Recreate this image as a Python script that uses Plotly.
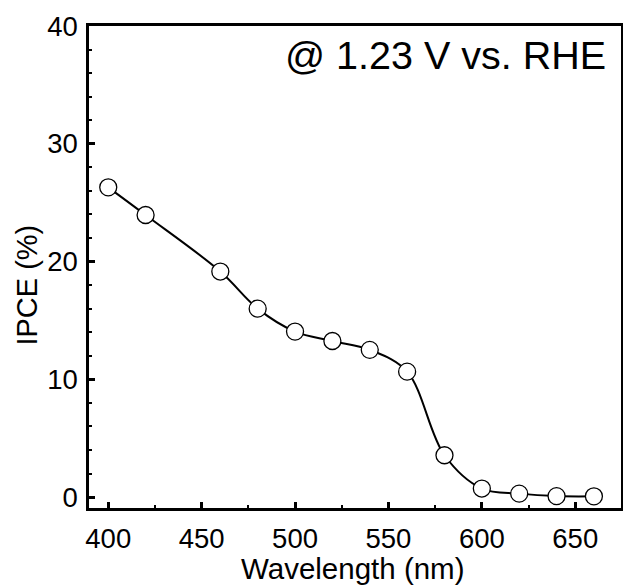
import plotly.graph_objects as go

wavelength = [400, 420, 460, 480, 500, 520, 540, 560, 580, 600, 620, 640, 660]
ipce = [26.3, 23.95, 19.15, 16.0, 14.05, 13.25, 12.5, 10.65, 3.55, 0.72, 0.29, 0.08, 0.06]

x_ticks = [400, 450, 500, 550, 600, 650]
y_ticks = [0, 10, 20, 30, 40]

FONT = "Liberation Sans, Arial, sans-serif"

fig = go.Figure()
fig.add_trace(go.Scatter(
    x=wavelength, y=ipce, mode="lines+markers",
    line=dict(color="black", width=2, shape="spline", smoothing=1.0),
    marker=dict(symbol="circle", size=17, color="white",
                line=dict(color="black", width=1.3)),
    showlegend=False,
))

axis_common = dict(
    showline=True, linecolor="black", linewidth=2.5, mirror=True,
    ticks="inside", ticklen=6, tickwidth=2.5, tickcolor="black",
    showgrid=False, zeroline=False, automargin=False,
    tickfont=dict(family=FONT, size=27.5, color="black"),
)

fig.update_xaxes(
    range=[389.7, 674.5], tickvals=x_ticks, ticktext=[str(v) for v in x_ticks],
    minor=dict(ticks="inside", ticklen=3, tickwidth=2, tickcolor="black", dtick=25, tick0=400),
    ticklabelstandoff=4,
    **axis_common,
)
fig.update_yaxes(
    range=[-0.93, 40], tickvals=y_ticks, ticktext=[str(v) for v in y_ticks],
    minor=dict(ticks="inside", ticklen=3, tickwidth=2, tickcolor="black", dtick=2, tick0=0),
    ticklabelstandoff=3,
    **axis_common,
)

fig.add_annotation(
    text="@ 1.23 V vs. RHE", xref="paper", yref="paper",
    x=0.975, y=0.939, xanchor="right", yanchor="middle", showarrow=False,
    font=dict(family=FONT, size=39.5, color="black"),
)
fig.add_annotation(
    text="IPCE (%)", xref="paper", yref="paper",
    x=-0.117, y=0.463, xanchor="center", yanchor="middle", textangle=-90,
    showarrow=False, font=dict(family=FONT, size=29, color="black"),
)
fig.add_annotation(
    text="Wavelength (nm)", xref="paper", yref="paper",
    x=0.496, y=-0.125, xanchor="center", yanchor="middle",
    showarrow=False, font=dict(family=FONT, size=29.5, color="black"),
)

fig.update_layout(
    width=623, height=588,
    margin=dict(l=89, r=2, t=26, b=80),
    paper_bgcolor="white", plot_bgcolor="white",
)

# remove the default 8px page margin so the figure fills the window exactly
fig.write_html("out.html", config={"displayModeBar": False},
               post_script="document.body.style.margin='0';")
